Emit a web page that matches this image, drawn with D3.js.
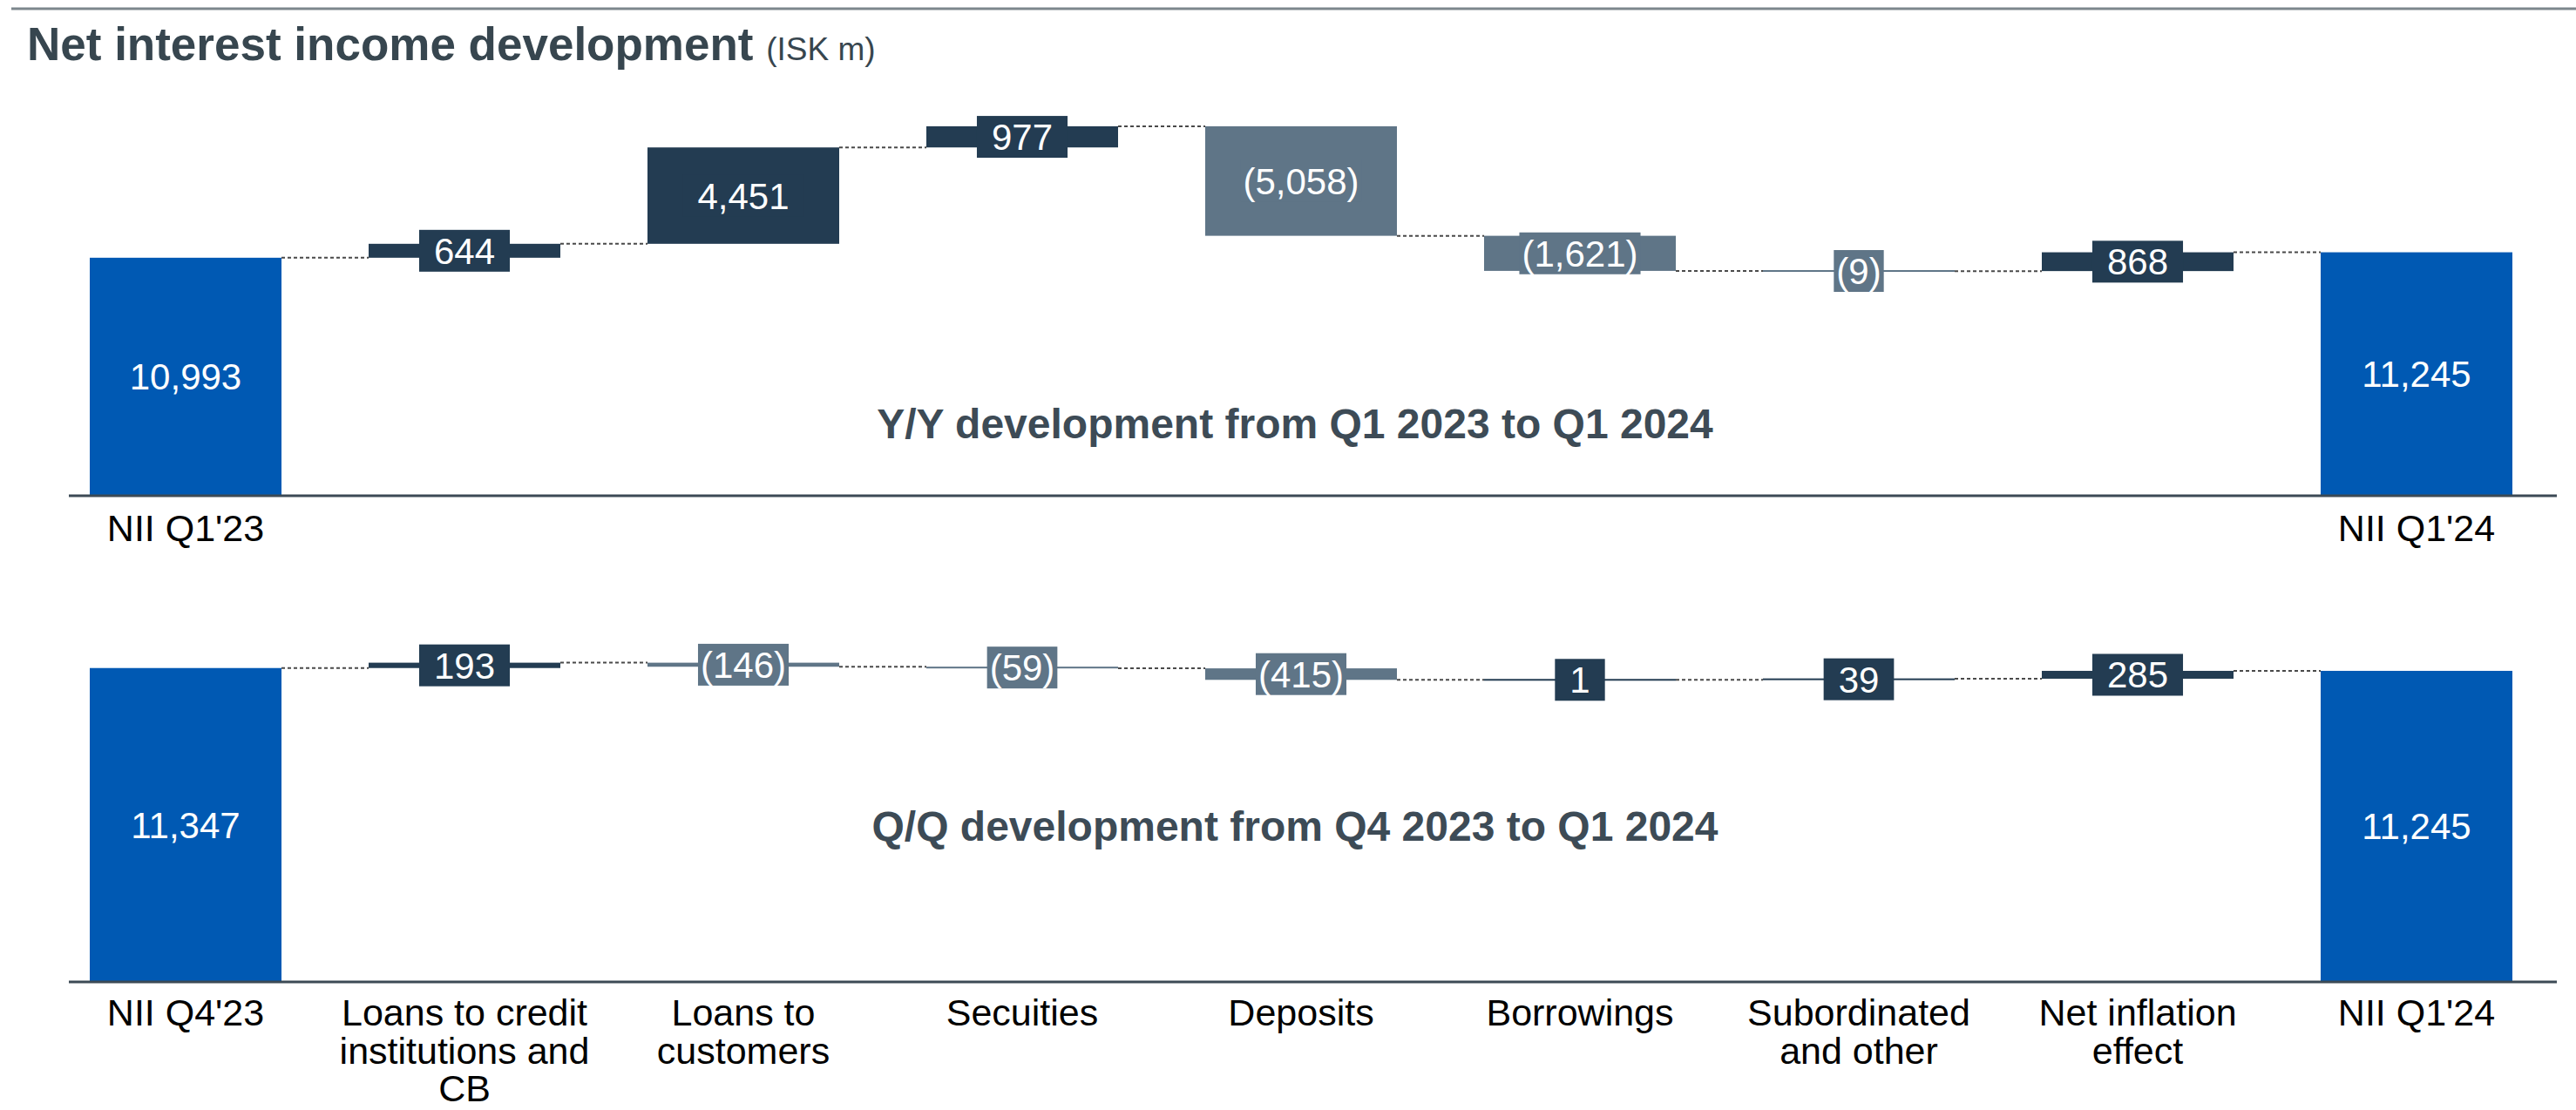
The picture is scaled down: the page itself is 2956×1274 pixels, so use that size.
<!DOCTYPE html>
<html>
<head>
<meta charset="utf-8">
<script src="https://cdn.jsdelivr.net/npm/d3@7"></script>
<style>
  body { margin: 0; background: #fff; }
  text { font-family: Arial, "Liberation Sans", sans-serif; }
</style>
</head>
<body>
<script>
'use strict';

// category labels (split into lines as on the slide)
const categoryLines = [
  ["NII Q4'23"],
  ["Loans to credit", "institutions and", "CB"],
  ["Loans to", "customers"],
  ["Secuities"],
  ["Deposits"],
  ["Borrowings"],
  ["Subordinated", "and other"],
  ["Net inflation", "effect"],
  ["NII Q1'24"]
];
const yyEdgeLabels = ["NII Q1'23", "NII Q1'24"];

// Y/Y bridge, ISK m
const yyStart = 10993;
const yyDeltas = [644, 4451, 977, -5058, -1621, -9, 868];
const yyEnd = 11245;

// Q/Q bridge, ISK m
const qqStart = 11347;
const qqDeltas = [193, -146, -59, -415, 1, 39, 285];
const qqEnd = 11245;

const colors = { total: "#0059b3", up: "#233c52", down: "#5f7587" };
const fmt = d3.format(",");

let svg = null;
let x = null;

window.onload = function() {
  svg = d3.select('body')
    .append('svg')
    .attr('width', 2956)
    .attr('height', 1274);

  // top rule + title
  svg.append('line')
    .attr('x1', 13).attr('x2', 2956)
    .attr('y1', 10).attr('y2', 10)
    .attr('stroke', '#7d878d')
    .attr('stroke-width', 3);

  let title = svg.append('text')
    .attr('x', 31)
    .attr('y', 69)
    .attr('fill', '#37464f')
    .style('font-size', '53px')
    .style('font-weight', 'bold')
    .text('Net interest income development ');
  title.append('tspan')
    .style('font-size', '37px')
    .style('font-weight', 'normal')
    .text('(ISK m)');

  x = d3.scaleBand()
    .domain(d3.range(categoryLines.length))
    .range([53, 2933])
    .paddingInner(0.3125)
    .paddingOuter(0.15625);

  // top panel
  let yTop = d3.scaleLinear().domain([0, 20000]).range([569, 72]);
  let topLabels = categoryLines.map((d, i) =>
    i == 0 ? [yyEdgeLabels[0]] : (i == categoryLines.length - 1 ? [yyEdgeLabels[1]] : []));
  drawPanel(buildSteps(yyStart, yyDeltas, yyEnd), yTop, 569, topLabels, 52,
    'Y/Y development from Q1 2023 to Q1 2024', 503);

  // bottom panel
  let yBot = d3.scaleLinear().domain([0, 12000]).range([1127, 746]);
  drawPanel(buildSteps(qqStart, qqDeltas, qqEnd), yBot, 1127, categoryLines, 50,
    'Q/Q development from Q4 2023 to Q1 2024', 965);
}

// turn start / deltas / end into floating bar segments
function buildSteps(start, deltas, end) {
  let steps = [{ type: 'total', y0: 0, y1: start, value: start }];
  let run = start;
  deltas.forEach((d) => {
    steps.push({ type: d >= 0 ? 'up' : 'down', y0: run, y1: run + d, value: d });
    run += d;
  });
  steps.push({ type: 'total', y0: 0, y1: end, value: end });
  return steps;
}

function labelText(v) {
  return v < 0 ? '(' + fmt(-v) + ')' : fmt(v);
}

function drawPanel(steps, y, axisY, labels, labelOffset, subtitle, subtitleY) {
  let g = svg.append('g');
  let bw = x.bandwidth();

  // dotted connectors between bars
  for (let i = 0; i < steps.length - 1; i++) {
    let level = y(steps[i].y1);
    g.append('line')
      .attr('x1', x(i) + bw).attr('x2', x(i + 1))
      .attr('y1', level).attr('y2', level)
      .attr('stroke', '#4a4a4a')
      .attr('stroke-width', 2)
      .attr('stroke-dasharray', '4,3');
  }

  // bars (keep a hairline for tiny values)
  g.selectAll('.bar')
    .data(steps)
    .enter()
    .append('rect')
      .attr('x', (d, i) => x(i))
      .attr('width', bw)
      .attr('y', (d) => {
        let top = Math.min(y(d.y0), y(d.y1));
        let h = Math.abs(y(d.y0) - y(d.y1));
        return h < 2 ? (y(d.y0) + y(d.y1)) / 2 - 1 : top;
      })
      .attr('height', (d) => Math.max(2, Math.abs(y(d.y0) - y(d.y1))))
      .attr('fill', (d) => colors[d.type]);

  // value labels
  steps.forEach((d, i) => {
    let cx = x(i) + bw / 2;
    let cy = (y(d.y0) + y(d.y1)) / 2;
    let txt = labelText(d.value);
    if (d.type != 'total') {
      // box as wide as the number in brackets (accounting format)
      let probe = g.append('text')
        .style('font-size', '42px')
        .text('(' + fmt(Math.abs(d.value)) + ')');
      let w = probe.node().getComputedTextLength() + 6;
      probe.remove();
      g.append('rect')
        .attr('x', cx - w / 2)
        .attr('y', cy - 24)
        .attr('width', w)
        .attr('height', 48)
        .attr('fill', colors[d.type]);
    }
    g.append('text')
      .attr('x', cx)
      .attr('y', cy + 15)
      .attr('text-anchor', 'middle')
      .attr('fill', '#fff')
      .style('font-size', '42px')
      .text(txt);
  });

  // category axis
  let axis = d3.axisBottom(x).tickSize(0).tickPadding(0).tickFormat(() => '');
  let ag = g.append('g')
    .attr('transform', 'translate(0,' + axisY + ')')
    .call(axis);
  ag.select('.domain').remove();
  ag.selectAll('.tick text')
    .attr('y', 0)
    .attr('dy', null)
    .attr('fill', '#000')
    .style('font-size', '43px')
    .each(function(i) {
      let t = d3.select(this);
      labels[i].forEach((line, k) => {
        t.append('tspan')
          .attr('x', 0)
          .attr('y', labelOffset + k * 43.5)
          .text(line);
      });
    });

  g.append('line')
    .attr('x1', 79).attr('x2', 2934)
    .attr('y1', axisY).attr('y2', axisY)
    .attr('stroke', '#3c4a55')
    .attr('stroke-width', 3);

  // panel caption
  g.append('text')
    .attr('x', 1486)
    .attr('y', subtitleY)
    .attr('text-anchor', 'middle')
    .attr('fill', '#3d4b56')
    .style('font-size', '48px')
    .style('font-weight', 'bold')
    .text(subtitle);
}
</script>
</body>
</html>
